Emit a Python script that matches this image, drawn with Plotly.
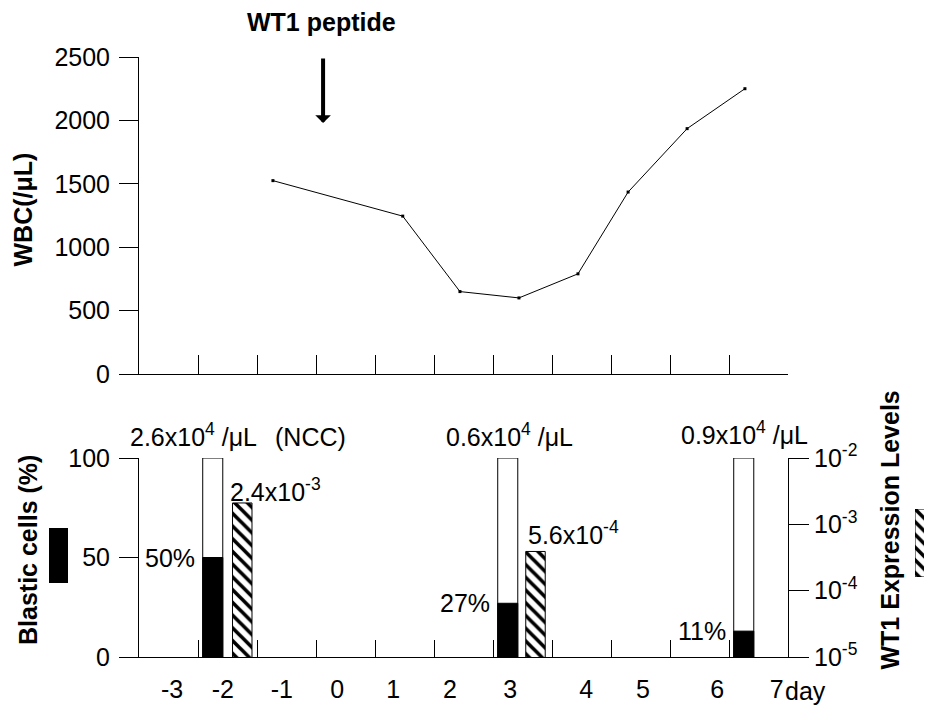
import plotly.graph_objects as go

# The page body adds an 8px margin, so the figure is sized to fill the rest.
W, H = 932, 705
OFF = 8
FW, FH = W - OFF, H - OFF
FONT = "Liberation Sans, Arial, sans-serif"
FS = 25

# ---------------- data ----------------
# x positions are in "slot" units of the shared day axis (0 .. 11 ticks)
wbc_x = [2.27, 4.47, 5.44, 6.44, 7.44, 8.29, 9.29, 10.27]
wbc = [1525, 1245, 650, 600, 790, 1435, 1935, 2250]

blast_x = [1.25, 6.25, 10.25]
blast_total = [100, 100, 100]
blast_pct = [50, 27, 13]
blast_labels = ["50%", "27%", "11%"]
ncc_labels = ["2.6x10<sup>4</sup> /μL", "0.6x10<sup>4</sup> /μL", "0.9x10<sup>4</sup> /μL"]

wt1_x = [1.75, 6.72]
wt1 = [2.1e-3, 3.9e-4]
wt1_labels = ["2.4x10<sup>-3</sup>", "5.6x10<sup>-4</sup>"]

day_labels = ["-3", "-2", "-1", "0", "1", "2", "3", "4", "5", "6", "7"]
day_label_pos = [0.56, 1.42, 2.42, 3.36, 4.31, 5.27, 6.29, 7.58, 8.54, 9.80, 10.81]
slot_ticks = list(range(1, 12))

wbc_ticks = [0, 500, 1000, 1500, 2000, 2500]
pct_ticks = [0, 50, 100]
log_ticks = [1e-5, 1e-4, 1e-3, 1e-2]
log_ticktext = ["10<sup>-5</sup>", "10<sup>-4</sup>", "10<sup>-3</sup>", "10<sup>-2</sup>"]

# ---------------- layout geometry (window pixels -> paper) ----------------
def px(x):
    return (x - OFF) / FW

def py(y):
    return 1 - (y - OFF) / FH

XDOM = [px(139), px(788)]
YTOP = [py(374), py(57)]
YBOT = [py(657), py(458)]

fig = go.Figure()

fig.add_trace(go.Scatter(
    x=wbc_x, y=wbc, mode="lines+markers",
    line=dict(color="black", width=1),
    marker=dict(symbol="square", size=3, color="black"),
    xaxis="x", yaxis="y", showlegend=False, hoverinfo="skip"))

fig.add_trace(go.Bar(
    x=blast_x, y=blast_total, width=0.34,
    marker=dict(color="white", line=dict(color="black", width=1)),
    xaxis="x2", yaxis="y2", showlegend=False, hoverinfo="skip"))
fig.add_trace(go.Bar(
    x=blast_x, y=blast_pct, width=0.34,
    marker=dict(color="black", line=dict(color="black", width=1)),
    xaxis="x2", yaxis="y2", showlegend=False, hoverinfo="skip"))
fig.add_trace(go.Bar(
    x=wt1_x, y=wt1, width=0.33,
    marker=dict(color="white", line=dict(color="black", width=1),
                pattern=dict(shape="\\", size=9, solidity=0.4,
                             fgcolor="black", bgcolor="white")),
    xaxis="x2", yaxis="y3", showlegend=False, hoverinfo="skip"))

# legend swatches
fig.add_trace(go.Bar(
    x=[0], y=[1], width=1, cliponaxis=False,
    marker=dict(color="black", line=dict(color="black", width=1)),
    xaxis="x4", yaxis="y4", showlegend=False, hoverinfo="skip"))
fig.add_trace(go.Bar(
    x=[0], y=[1], width=1, cliponaxis=False,
    marker=dict(color="white", line=dict(color="black", width=1),
                pattern=dict(shape="\\", size=9, solidity=0.4,
                             fgcolor="black", bgcolor="white")),
    xaxis="x5", yaxis="y5", showlegend=False, hoverinfo="skip"))

axis_common = dict(showgrid=False, zeroline=False, showline=True,
                   linecolor="black", linewidth=1, tickcolor="black",
                   tickwidth=1, fixedrange=True, automargin=False,
                   tickfont=dict(family=FONT, size=FS, color="black"))

hidden = dict(visible=False, fixedrange=True)

fig.update_layout(
    width=FW, height=FH,
    margin=dict(l=0, r=0, t=0, b=0),
    paper_bgcolor="white", plot_bgcolor="rgba(0,0,0,0)",
    template="none", barmode="overlay",
    font=dict(family=FONT, size=FS, color="black"),
    xaxis=dict(domain=XDOM, range=[0, 11], anchor="y",
               tickmode="array", tickvals=slot_ticks, ticks="inside",
               ticklen=19, showticklabels=False, **axis_common),
    yaxis=dict(domain=YTOP, range=[0, 2500], anchor="x",
               tickmode="array", tickvals=wbc_ticks, ticks="outside",
               ticklen=19, ticklabelstandoff=4, **axis_common),
    xaxis2=dict(domain=XDOM, range=[0, 11], anchor="y2",
                tickmode="array", tickvals=day_label_pos, ticktext=day_labels,
                ticks="", ticklabelstandoff=10,
                minor=dict(tickmode="array", tickvals=slot_ticks, ticks="inside",
                           ticklen=17, tickcolor="black", tickwidth=1, showgrid=False),
                **axis_common),
    yaxis2=dict(domain=YBOT, range=[0, 100], anchor="x2",
                tickmode="array", tickvals=pct_ticks, ticks="outside",
                ticklen=19, ticklabelstandoff=4, **axis_common),
    yaxis3=dict(overlaying="y2", side="right", anchor="x2", type="log",
                range=[-5, -2], tickmode="array", tickvals=log_ticks,
                ticktext=log_ticktext, ticks="outside", ticklen=20,
                **axis_common),
    xaxis4=dict(domain=[px(49), px(68)], range=[-0.5, 0.5], anchor="y4", **hidden),
    yaxis4=dict(domain=[py(583), py(528)], range=[0, 1], anchor="x4", **hidden),
    xaxis5=dict(domain=[px(915), 1.0], range=[-0.5, 0.5], anchor="y5", **hidden),
    yaxis5=dict(domain=[py(577), py(509)], range=[0, 1], anchor="x5", **hidden),
)

ann = []
def text(x, y, t, xref="paper", yref="paper", xanchor="center", yanchor="middle",
         bold=False, angle=0, xshift=0, yshift=0):
    ann.append(dict(x=x, y=y, xref=xref, yref=yref, text=(f"<b>{t}</b>" if bold else t),
                    showarrow=False, xanchor=xanchor, yanchor=yanchor,
                    textangle=angle, xshift=xshift, yshift=yshift,
                    font=dict(family=FONT, size=FS, color="black")))

# titles
text(px(321.5), py(22), "WT1 peptide", bold=True)
text(px(22.5), py(210), "WBC(/μL)", bold=True, angle=-90)
text(px(28), py(550), "Blastic cells (%)", bold=True, angle=-90)
text(px(889), py(530.5), "WT1 Expression Levels", bold=True, angle=-90)
text(px(805), py(691), "day")

# arrow for peptide injection
ann.append(dict(x=3.12, y=1979, xref="x", yref="y", text="", showarrow=True,
                ax=0, ay=-66, arrowhead=1, arrowwidth=4, arrowsize=0.65,
                arrowcolor="black"))

# nucleated cell count labels above the blast bars (placed above the plot area)
ncc_pix = [(128, 435), (444, 435), (679, 433)]
for (x, y), t in zip(ncc_pix, ncc_labels):
    text(px(x), py(y), t, xanchor="left")
text(px(273), py(437), "(NCC)", xanchor="left")

# blast percentage labels (left of bars, at bar top)
for x, p, t in zip(blast_x, blast_pct, blast_labels):
    text(x - 0.17, p, t, xref="x2", yref="y2", xanchor="right", xshift=-6)

# WT1 labels
wt1_pos = [(1.508, 83.9), (6.56, 62.3)]
for (x, y), t in zip(wt1_pos, wt1_labels):
    text(x, y, t, xref="x2", yref="y2", xanchor="left")

fig.update_layout(annotations=ann)
fig.write_html("out.html")
